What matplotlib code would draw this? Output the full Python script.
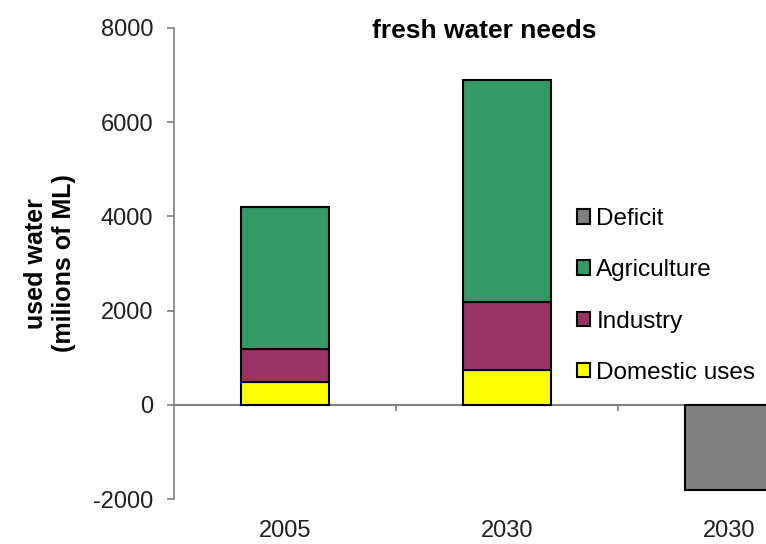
import numpy as np
import matplotlib
matplotlib.use('Agg')
import matplotlib.pyplot as plt
from matplotlib.patches import Patch

plt.rcParams['font.family'] = ['Liberation Sans', 'DejaVu Sans']
plt.rcParams['axes.unicode_minus'] = False

# values (millions of ML)
years = ['2005', '2030', '2030']
domestic = [480, 730, 0]
industry = [710, 1460, 0]
agriculture = [3000, 4700, 0]
deficit = [0, 0, -1800]

series = ['Domestic uses', 'Industry', 'Agriculture', 'Deficit']
colors = ['#FFFF00', '#993366', '#339966', '#808080']

x = np.arange(len(years))
w = 0.4
edge = dict(edgecolor='black', linewidth=1.5)

fig = plt.figure(figsize=(7.66, 5.44), dpi=100)
ax = fig.add_axes([174 / 766, 45 / 544, 666 / 766, 471 / 544])

b_dom = ax.bar(x, domestic, w, color=colors[0], **edge)
bottom1 = np.array(domestic)
b_ind = ax.bar(x, industry, w, bottom=bottom1, color=colors[1], **edge)
bottom2 = bottom1 + np.array(industry)
b_agr = ax.bar(x, agriculture, w, bottom=bottom2, color=colors[2], **edge)
b_def = ax.bar(x, deficit, w, color=colors[3], **edge)

# hide empty segments so they don't draw edge lines
for cont, vals in [(b_dom, domestic), (b_ind, industry), (b_agr, agriculture), (b_def, deficit)]:
    for rect, v in zip(cont, vals):
        if v == 0:
            rect.set_visible(False)

ax.set_xlim(-0.5, 2.5)
ax.set_ylim(-2000, 8000)
ax.set_yticks(np.arange(-2000, 8001, 2000))
ax.tick_params(axis='y', direction='out', length=5, width=1.2, color='#808080',
               labelsize=17, pad=10, labelcolor='#202020')

ax.set_xticks(x)
ax.set_xticklabels(years)
ax.tick_params(axis='x', length=0, labelsize=17, pad=15, labelcolor='#202020')

for s in ['top', 'right', 'bottom']:
    ax.spines[s].set_visible(False)
ax.spines['left'].set_color('#808080')
ax.spines['left'].set_linewidth(1.2)

# category axis sits on the zero line
zero_ax = ax.secondary_xaxis(0.2)
zero_ax.set_xticks([0.5, 1.5])
zero_ax.set_xticklabels([])
zero_ax.tick_params(direction='out', length=4, width=1.2, color='#808080')
zero_ax.spines['bottom'].set_color('#808080')
zero_ax.spines['bottom'].set_linewidth(1.5)

ax.set_ylabel('used water\n(milions of ML)', fontsize=18, fontweight='bold', labelpad=12)

fig.text(484 / 766, 1 - 31 / 544, 'fresh water needs', fontsize=19, fontweight='bold',
         ha='center', va='center')

handles = [Patch(facecolor=c, edgecolor='black', linewidth=1.5) for c in colors]
fig.legend(handles[::-1], series[::-1],
           loc='center left', bbox_to_anchor=(577 / 766, 1 - 296 / 544),
           frameon=False, fontsize=17.5, handlelength=0.55, handleheight=0.55,
           handletextpad=0.25, labelspacing=1.2, borderpad=0, borderaxespad=0)

fig.savefig('out.png', dpi=100)
